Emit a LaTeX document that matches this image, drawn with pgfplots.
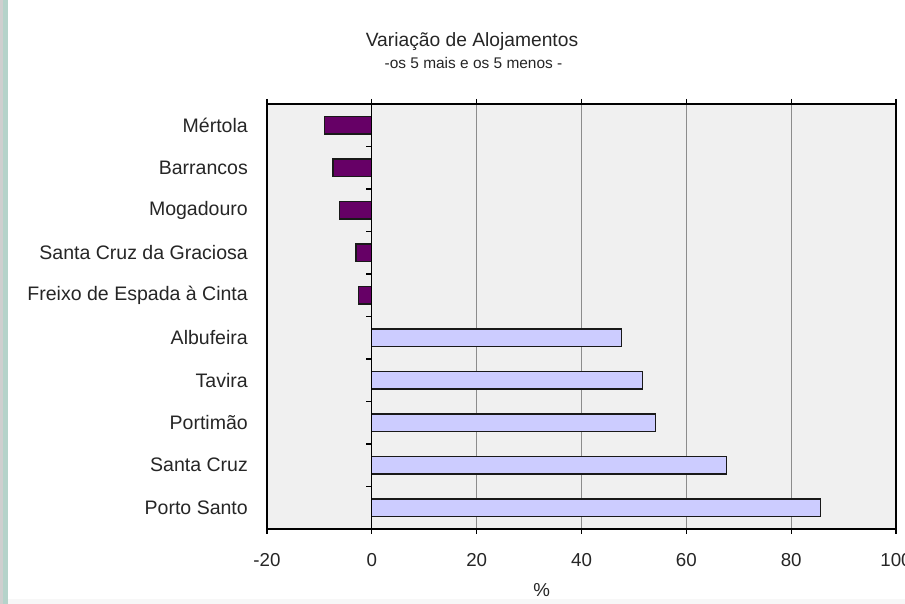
\documentclass[border=0pt]{standalone}
\usepackage{pgfplots}
\pgfplotsset{compat=1.18}
\usepackage{fontspec}
\setmainfont{Liberation Sans}
\definecolor{negbar}{HTML}{660066}
\definecolor{posbar}{HTML}{CCCCFF}
\definecolor{plotbg}{HTML}{F0F0F0}
\definecolor{gridc}{HTML}{8C8C8C}
\definecolor{edgeteal}{HTML}{B5D3CA}
\definecolor{edgegray}{HTML}{CFCFCF}
\begin{document}
\begin{tikzpicture}[x=1bp,y=1bp]
\useasboundingbox (0,0) rectangle (905,604);
\fill[white] (0,0) rectangle (905,604);
\fill[edgegray] (0,0) rectangle (2.5,604);
\fill[edgeteal] (2.5,0) rectangle (7.5,604);
\fill[white!97!black] (7.5,0) rectangle (905,5);
\begin{axis}[
  at={(267bp,75bp)}, anchor=south west,
  scale only axis, width=629bp, height=425bp,
  xbar, bar width=17.6bp, bar shift=0pt,
  xmin=-20, xmax=100, ymin=-0.5, ymax=9.5,
  xtick={-20,0,20,40,60,80,100},
  ytick={0,...,9},
  yticklabels={Porto Santo, Santa Cruz, Portimão, Tavira, Albufeira, Freixo de Espada à Cinta, Santa Cruz da Graciosa, Mogadouro, Barrancos, Mértola},
  axis background/.style={fill=plotbg},
  xmajorgrids, grid style={gridc, line width=0.9bp},
  axis line style={black, line width=1.3bp},
  x tick style={black, line width=1.1bp},
  xtick align=outside, major tick length=5bp,
  y tick style={draw=none},
  tick label style={text=black!85},
  xticklabel style={font=\fontsize{18.8}{20}\selectfont, inner sep=0pt, yshift=-19bp},
  yticklabel style={font=\fontsize{19.6}{21}\selectfont, inner sep=0pt, xshift=-14bp},
  /pgf/number format/assume math mode=true,
  clip=false,
]
\addplot[draw=black!90, line width=1.3bp, fill=negbar] coordinates {
  (-2.5,5) (-3.0,6) (-6.2,7) (-7.4,8) (-9.0,9)
};
\addplot[draw=black!90, line width=1.3bp, fill=posbar] coordinates {
  (85.6,0) (67.7,1) (54.1,2) (51.6,3) (47.6,4)
};
\draw[black, line width=1.3bp] (axis cs:0,-0.5) -- (axis cs:0,9.5);
\pgfplotsinvokeforeach{0.5,1.5,2.5,3.5,4.5,5.5,6.5,7.5,8.5}{
  \draw[black, line width=1.1bp] (axis cs:0,#1) -- ++(-6bp,0pt);
}
\end{axis}
\node[font=\fontsize{19.3}{21}\selectfont, text=black!85] at (472,562) {Variação de Alojamentos};
\node[font=\fontsize{15.5}{17}\selectfont, text=black!85] at (473.5,541) {-os 5 mais e os 5 menos -};
\node[font=\fontsize{18.8}{20}\selectfont, text=black!85] at (541.7,13.5) {\%};
\end{tikzpicture}
\end{document}
